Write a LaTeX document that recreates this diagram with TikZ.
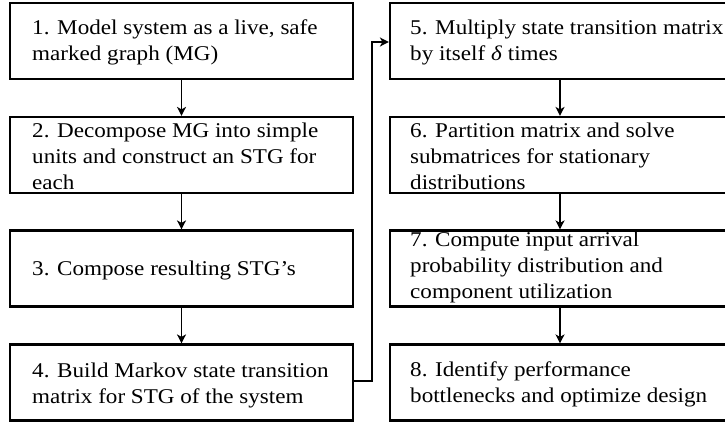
\documentclass[tikz,border=0pt]{standalone}
\usepackage{fontspec}
\setmainfont{Liberation Serif}[FakeStretch=1.1]
\usetikzlibrary{arrows.meta}
\tikzset{
  x=1pt, y=-1pt,
  boxl/.style={draw, line width=2.2pt, minimum width=343pt, minimum height=76pt, inner sep=0pt},
  boxr/.style={draw, line width=2.2pt, minimum width=340pt, minimum height=76pt, inner sep=0pt},
  txt/.style={anchor=base west, inner sep=0pt, font=\fontsize{21}{26}\selectfont},
  conn/.style={line width=1.8pt, -{Stealth[length=9pt,width=9pt,inset=2.5pt]}}
}
\newcommand{\lines}[1]{\begin{tabular}[t]{@{}l@{}}#1\end{tabular}}
\begin{document}
\begin{tikzpicture}
\useasboundingbox (0,0) rectangle (725,424);
\begin{scope}
\clip (0,0) rectangle (725,424);
% left column
\node[boxl] (b1) at (181.5,41) {};
\node[boxl] (b2) at (181.5,155) {};
\node[boxl] (b3) at (181.5,268.5) {};
\node[boxl] (b4) at (181.5,382.5) {};
% right column
\node[boxr] (b5) at (560,41) {};
\node[boxr] (b6) at (560,155) {};
\node[boxr] (b7) at (560,268.5) {};
\node[boxr] (b8) at (560,382.5) {};
\end{scope}
\node[txt] (t1) at (32,34) {\lines{1. Model system as a live, safe\\marked graph (MG)}};
\node[txt] (t2) at (32,137) {\lines{2. Decompose MG into simple\\units and construct an STG for\\each}};
\node[txt] (t3) at (32,275.5) {\lines{3. Compose resulting STG’s}};
\node[txt] (t4) at (32,377) {\lines{4. Build Markov state transition\\matrix for STG of the system}};
\node[txt] (t5) at (410,34) {\lines{5. Multiply state transition matrix\\by itself \textit{δ} times}};
\node[txt] (t6) at (410,137) {\lines{6. Partition matrix and solve\\submatrices for stationary\\distributions}};
\node[txt] (t7) at (410,246) {\lines{7. Compute input arrival\\probability distribution and\\component utilization}};
\node[txt] (t8) at (410,376) {\lines{8. Identify performance\\bottlenecks and optimize design}};
% connectors
\draw[conn] (b1.south) -- (b2.north);
\draw[conn] (b2.south) -- (b3.north);
\draw[conn] (b3.south) -- (b4.north);
\coordinate (c1) at (372,381);
\coordinate (c2) at (372,42);
\draw[conn] (b4.east |- c1) -- (c1) -- (c2) -- (b5.west |- c2);
\draw[conn] (b5.south) -- (b6.north);
\draw[conn] (b6.south) -- (b7.north);
\draw[conn] (b7.south) -- (b8.north);
\end{tikzpicture}
\end{document}
